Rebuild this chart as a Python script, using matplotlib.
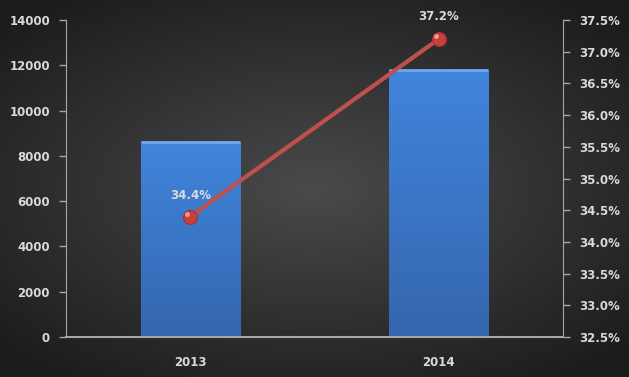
import numpy as np
import matplotlib
matplotlib.use("Agg")
import matplotlib.pyplot as plt
from matplotlib.ticker import FuncFormatter, MultipleLocator

years = ["2013", "2014"]
values = [8600, 11800]
shares = [34.4, 37.2]

fig = plt.figure(figsize=(6.29, 3.77), dpi=100)

# radial gradient background
bg = fig.add_axes([0, 0, 1, 1])
bg.set_axis_off()
yy, xx = np.mgrid[-1:1:300j, -1:1:500j]
r = np.sqrt(xx**2 + (yy * 1.1)**2)
shade = np.clip(0.29 - 0.17 * r / 1.3, 0.11, 0.29)
bg.imshow(np.dstack([shade, shade, shade]), aspect="auto", extent=[0, 1, 0, 1], zorder=0)

W, H = 629, 377
x0, x1, y0, y1 = 66, 563, 20, 337
ax = fig.add_axes([x0 / W, 1 - y1 / H, (x1 - x0) / W, (y1 - y0) / H])
ax.patch.set_alpha(0)
ax2 = ax.twinx()
ax2.patch.set_alpha(0)

txtc = "#d9d9d9"
axc = "#a6a6a6"
x = np.arange(len(years))
bars = ax.bar(x, values, width=0.4, color="#3c7bd0", edgecolor="#2c5a96", linewidth=0.8, zorder=2)
# gradient fill + bevel for bars
grad = np.linspace(0, 1, 100)[:, None]
cols = np.zeros((100, 1, 3))
top = np.array([0x40, 0x85, 0xdc]) / 255
bot = np.array([0x35, 0x66, 0xae]) / 255
cols[:, 0, :] = top * (1 - grad) + bot * grad
for b in bars:
    bx, bw, bh = b.get_x(), b.get_width(), b.get_height()
    im = ax.imshow(cols, extent=[bx, bx + bw, 0, bh], aspect="auto", zorder=2.1)
    im.set_clip_path(b)
    ax.plot([bx, bx + bw], [bh, bh], color="#72a8ec", lw=2, zorder=2.2, solid_capstyle="butt")

ax.set_xlim(-0.5, 1.5)
ax.set_ylim(0, 14000)
ax.yaxis.set_major_locator(MultipleLocator(2000))
ax.set_xticks(x)
ax.set_xticklabels(years)

ax2.set_ylim(32.5, 37.5)
ax2.yaxis.set_major_locator(MultipleLocator(0.5))
ax2.yaxis.set_major_formatter(FuncFormatter(lambda v, p: f"{v:.1f}%"))
ax2.plot(x, shares, color="#c0504d", lw=3, zorder=5)
ax2.plot(x, shares, "o", ms=10, mfc="#c8403d", mec="#a33330", mew=0.8, zorder=6)
ax2.plot(x - 0.012, np.array(shares) + 0.04, "o", ms=3.5, mfc="#ee9a98", mec="none", zorder=7)
offsets = [0.33, 0.35]
for xi, s, o in zip(x, shares, offsets):
    ax2.text(xi, s + o, f"{s:.1f}%", ha="center", va="center", color=txtc,
             fontsize=8.5, fontweight="bold")

for a in (ax, ax2):
    for sp in a.spines.values():
        sp.set_visible(False)
    a.tick_params(colors=axc, labelcolor=txtc, labelsize=8.5, width=1)
    for lab in a.get_yticklabels() + a.get_xticklabels():
        lab.set_fontweight("bold")

ax.spines["left"].set_visible(True)
ax.spines["left"].set_color(axc)
ax.spines["bottom"].set_visible(True)
ax.spines["bottom"].set_color(axc)
ax.spines["bottom"].set_linewidth(1.5)
ax2.spines["right"].set_visible(True)
ax2.spines["right"].set_color(axc)
ax.tick_params(axis="x", length=0, pad=14)
ax.tick_params(axis="y", length=5, pad=6.5)
ax2.tick_params(axis="y", length=5, pad=6.5)

fig.savefig("out.png", dpi=100)
